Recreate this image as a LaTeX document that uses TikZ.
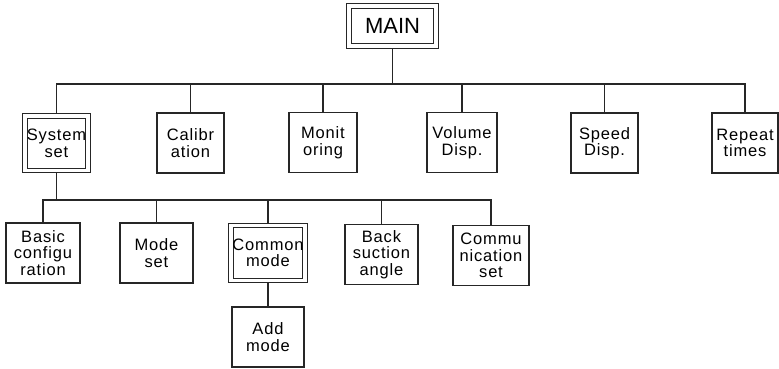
\documentclass[tikz,border=0pt]{standalone}
\usepackage{fontspec}
\setmainfont{Liberation Sans}
\newfontfamily\boxfont[LetterSpace=5]{Liberation Sans}
\usetikzlibrary{backgrounds}
\tikzset{
  box/.style={draw=black!85, line width=1.1pt, inner sep=0pt, align=center,
    font=\boxfont\fontsize{16.5}{16.5}\selectfont, minimum height=60pt},
  dbox/.style={box, double, double distance=3.6pt, line width=1pt},
  conn/.style={draw=black!85, line width=1.1pt},
}
\begin{document}
\begin{tikzpicture}[x=1pt,y=-1pt]
\useasboundingbox (0,0) rectangle (779,368);
% top
\node[dbox, minimum width=87pt, minimum height=40pt, font=\fontsize{22}{22}\selectfont] (main) at (392.5,26) {MAIN};
% row 1
\node[dbox, minimum width=63pt, minimum height=54.5pt] (sys) at (56.5,143.25) {System\\set};
\node[box, minimum width=67pt] (cal) at (190.5,143) {Calibr\\ation};
\node[box, minimum width=68pt] (mon) at (323,142.5) {Monit\\oring};
\node[box, minimum width=70pt] (vol) at (462,142.5) {Volume\\Disp.};
\node[box, minimum width=67pt] (spd) at (604.5,143) {Speed\\Disp.};
\node[box, minimum width=66pt] (rep) at (745,143) {Repeat\\times};
% row 2
\node[box, minimum width=74pt] (basic) at (43,253) {Basic\\configu\\ration};
\node[box, minimum width=73pt] (mode) at (156.5,253) {Mode\\set};
\node[dbox, minimum width=74pt, minimum height=55pt] (com) at (268,253) {Common\\mode};
\node[box, minimum width=73pt] (back) at (381.5,254.5) {Back\\suction\\angle};
\node[box, minimum width=76pt] (commu) at (491,255.5) {Commu\\nication\\set};
% row 3
\node[box, minimum width=72pt] (add) at (268,337) {Add\\mode};
% connectors
\coordinate (b1) at (392.5,84);
\coordinate (b2) at (56.5,200);
\begin{scope}[on background layer]
\draw[conn] (main.south) -- (b1);
\draw[conn] (sys.north) |- (b1) -| (rep.north);
\draw[conn] (cal.north) -- (cal.north |- b1);
\draw[conn] (mon.north) -- (mon.north |- b1);
\draw[conn] (vol.north) -- (vol.north |- b1);
\draw[conn] (spd.north) -- (spd.north |- b1);
\draw[conn] (sys.south) -- (b2);
\draw[conn] (basic.north) |- (b2) -| (commu.north);
\draw[conn] (mode.north) -- (mode.north |- b2);
\draw[conn] (com.north) -- (com.north |- b2);
\draw[conn] (back.north) -- (back.north |- b2);
\draw[conn] (com.south) -- (add.north);
\end{scope}
\end{tikzpicture}
\end{document}
